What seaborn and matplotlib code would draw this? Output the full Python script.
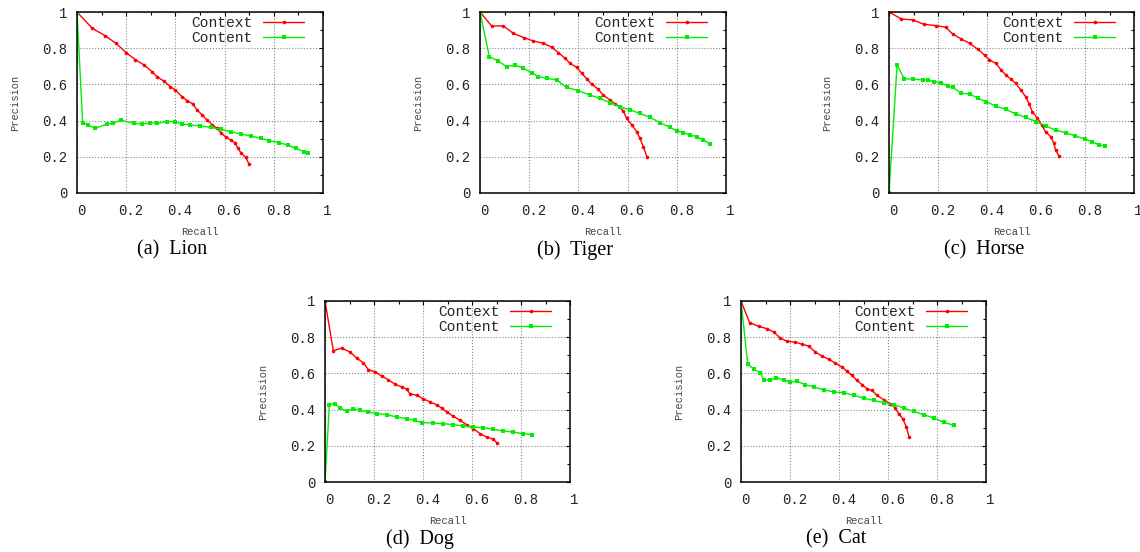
import matplotlib
matplotlib.use('Agg')
import matplotlib.pyplot as plt
import matplotlib.transforms as mtransforms
from matplotlib.ticker import MultipleLocator, FixedLocator, FixedFormatter
import seaborn as sns

# precision / recall pairs
lion_ctx_r = [0, 0.062, 0.114, 0.159, 0.2, 0.237, 0.273, 0.305, 0.325, 0.352, 0.38, 0.4, 0.427, 0.448,
              0.471, 0.488, 0.509, 0.529, 0.55, 0.57, 0.586, 0.604, 0.624, 0.642, 0.654, 0.668, 0.686, 0.699]
lion_ctx_p = [1.0, 0.91, 0.869, 0.827, 0.775, 0.737, 0.707, 0.67, 0.643, 0.619, 0.587, 0.569, 0.532, 0.51,
              0.492, 0.459, 0.431, 0.403, 0.376, 0.357, 0.33, 0.311, 0.293, 0.278, 0.247, 0.219, 0.197, 0.16]
lion_cnt_r = [0, 0.023, 0.046, 0.073, 0.121, 0.148, 0.178, 0.23, 0.264, 0.298, 0.325, 0.366, 0.4, 0.427,
              0.461, 0.502, 0.543, 0.584, 0.624, 0.665, 0.706, 0.747, 0.781, 0.822, 0.856, 0.89, 0.924, 0.937]
lion_cnt_p = [1.0, 0.389, 0.376, 0.357, 0.38, 0.385, 0.403, 0.385, 0.38, 0.389, 0.385, 0.394, 0.394, 0.381,
              0.376, 0.37, 0.363, 0.352, 0.339, 0.326, 0.315, 0.302, 0.289, 0.278, 0.265, 0.247, 0.228, 0.219]

tiger_ctx_r = [0, 0.047, 0.095, 0.136, 0.179, 0.217, 0.258, 0.292, 0.319, 0.346, 0.366, 0.393, 0.414, 0.434,
               0.454, 0.481, 0.501, 0.528, 0.549, 0.569, 0.583, 0.596, 0.617, 0.637, 0.65, 0.664, 0.678]
tiger_ctx_p = [1.0, 0.923, 0.923, 0.882, 0.858, 0.84, 0.827, 0.805, 0.775, 0.744, 0.716, 0.694, 0.661, 0.63,
               0.602, 0.573, 0.541, 0.514, 0.492, 0.473, 0.453, 0.413, 0.376, 0.339, 0.302, 0.256, 0.201]
tiger_cnt_r = [0, 0.038, 0.074, 0.108, 0.142, 0.176, 0.21, 0.237, 0.271, 0.312, 0.352, 0.4, 0.447, 0.488,
               0.528, 0.569, 0.61, 0.65, 0.691, 0.732, 0.772, 0.8, 0.827, 0.854, 0.881, 0.908, 0.935]
tiger_cnt_p = [1.0, 0.753, 0.729, 0.698, 0.707, 0.689, 0.665, 0.643, 0.634, 0.624, 0.584, 0.565, 0.541, 0.523,
               0.499, 0.477, 0.459, 0.44, 0.418, 0.389, 0.363, 0.344, 0.333, 0.32, 0.311, 0.293, 0.271]

horse_ctx_r = [0, 0.051, 0.099, 0.142, 0.191, 0.231, 0.261, 0.295, 0.329, 0.363, 0.39, 0.41, 0.437, 0.457,
               0.477, 0.498, 0.518, 0.538, 0.558, 0.572, 0.585, 0.606, 0.623, 0.639, 0.66, 0.673, 0.68, 0.694]
horse_ctx_p = [1.0, 0.961, 0.956, 0.932, 0.925, 0.916, 0.877, 0.851, 0.827, 0.794, 0.762, 0.735, 0.716, 0.68,
               0.652, 0.628, 0.606, 0.569, 0.532, 0.492, 0.449, 0.413, 0.376, 0.339, 0.311, 0.275, 0.238, 0.204]
horse_cnt_r = [0, 0.033, 0.063, 0.097, 0.138, 0.158, 0.185, 0.212, 0.239, 0.26, 0.295, 0.329, 0.363, 0.397,
               0.437, 0.477, 0.518, 0.558, 0.599, 0.639, 0.68, 0.721, 0.761, 0.802, 0.829, 0.856, 0.883]
horse_cnt_p = [0, 0.707, 0.63, 0.63, 0.624, 0.624, 0.615, 0.609, 0.591, 0.584, 0.551, 0.547, 0.523, 0.504,
               0.48, 0.462, 0.436, 0.418, 0.394, 0.37, 0.348, 0.333, 0.315, 0.297, 0.284, 0.265, 0.261]

dog_ctx_r = [0, 0.034, 0.068, 0.102, 0.129, 0.156, 0.177, 0.204, 0.231, 0.258, 0.286, 0.313, 0.333, 0.347,
             0.374, 0.401, 0.429, 0.456, 0.476, 0.497, 0.524, 0.551, 0.578, 0.605, 0.633, 0.66, 0.687, 0.703]
dog_ctx_p = [1.0, 0.725, 0.74, 0.718, 0.685, 0.659, 0.621, 0.608, 0.586, 0.565, 0.54, 0.525, 0.512, 0.488,
             0.479, 0.46, 0.442, 0.427, 0.409, 0.387, 0.363, 0.341, 0.317, 0.295, 0.267, 0.249, 0.236, 0.215]
dog_cnt_r = [0, 0.018, 0.041, 0.061, 0.089, 0.116, 0.143, 0.177, 0.211, 0.252, 0.293, 0.333, 0.367, 0.395,
             0.442, 0.483, 0.524, 0.565, 0.605, 0.646, 0.687, 0.728, 0.769, 0.809, 0.844]
dog_cnt_p = [0, 0.427, 0.433, 0.409, 0.39, 0.405, 0.396, 0.387, 0.378, 0.372, 0.359, 0.35, 0.341, 0.328,
             0.326, 0.322, 0.317, 0.309, 0.304, 0.3, 0.291, 0.282, 0.276, 0.267, 0.262]

cat_ctx_r = [0, 0.035, 0.072, 0.106, 0.133, 0.16, 0.188, 0.222, 0.249, 0.276, 0.303, 0.331, 0.358, 0.385,
             0.412, 0.433, 0.453, 0.473, 0.494, 0.514, 0.535, 0.555, 0.582, 0.609, 0.63, 0.643, 0.66, 0.675, 0.686]
cat_ctx_p = [1.0, 0.88, 0.86, 0.847, 0.829, 0.796, 0.777, 0.773, 0.761, 0.751, 0.718, 0.696, 0.678, 0.657,
             0.635, 0.611, 0.589, 0.562, 0.538, 0.516, 0.506, 0.479, 0.455, 0.433, 0.409, 0.378, 0.35, 0.304, 0.249]
cat_cnt_r = [0, 0.027, 0.052, 0.079, 0.092, 0.12, 0.144, 0.174, 0.201, 0.229, 0.262, 0.296, 0.337, 0.378,
             0.419, 0.46, 0.5, 0.541, 0.582, 0.623, 0.664, 0.705, 0.745, 0.786, 0.827, 0.868]
cat_cnt_p = [1.0, 0.654, 0.622, 0.604, 0.565, 0.562, 0.575, 0.565, 0.552, 0.556, 0.538, 0.525, 0.51, 0.497,
             0.494, 0.479, 0.464, 0.451, 0.438, 0.427, 0.409, 0.39, 0.372, 0.354, 0.331, 0.313]

captions = ['(a)  Lion', '(b)  Tiger', '(c)  Horse', '(d)  Dog', '(e)  Cat']
tick_vals = [0, 0.2, 0.4, 0.6, 0.8, 1]
tick_labels = ['0', '0.2', '0.4', '0.6', '0.8', '1']

series = [
    (lion_ctx_r, lion_ctx_p, lion_cnt_r, lion_cnt_p),
    (tiger_ctx_r, tiger_ctx_p, tiger_cnt_r, tiger_cnt_p),
    (horse_ctx_r, horse_ctx_p, horse_cnt_r, horse_cnt_p),
    (dog_ctx_r, dog_ctx_p, dog_cnt_r, dog_cnt_p),
    (cat_ctx_r, cat_ctx_p, cat_cnt_r, cat_cnt_p),
]

# axes boxes in pixels: left, top, width, height
W, H = 1140, 552
boxes = [(77, 12, 246, 181), (480, 12, 246, 181), (889, 12, 245, 181),
         (325, 301, 245, 181), (741, 301, 245, 181)]

sns.set_style('white')
plt.rcParams['font.family'] = ['Liberation Mono', 'DejaVu Sans Mono']

fig = plt.figure(figsize=(W / 100, H / 100), dpi=100)
shift = mtransforms.ScaledTranslation(4.5 / 100, 0, fig.dpi_scale_trans)

for k, (cr, cp, nr, np_) in enumerate(series):
    l, t, w, h = boxes[k]
    ax = fig.add_axes([l / W, (H - t - h) / H, w / W, h / H])
    sns.lineplot(x=cr, y=cp, ax=ax, sort=False, estimator=None, color='#ff0000', lw=1,
                 marker='o', markersize=2.6, mec='#ff0000', mew=0, label='Context')
    sns.lineplot(x=nr, y=np_, ax=ax, sort=False, estimator=None, color='#00ee00', lw=1,
                 marker='s', markersize=2.2, mec='#00ee00', mew=0, label='Content')
    ax.set_xlim(0, 1)
    ax.set_ylim(0, 1)
    ax.xaxis.set_major_locator(FixedLocator(tick_vals))
    ax.yaxis.set_major_locator(FixedLocator(tick_vals))
    ax.xaxis.set_major_formatter(FixedFormatter(tick_labels))
    ax.yaxis.set_major_formatter(FixedFormatter(tick_labels))
    ax.xaxis.set_minor_locator(MultipleLocator(0.1))
    ax.yaxis.set_minor_locator(MultipleLocator(0.1))
    ax.tick_params(which='both', direction='in', top=True, right=True, color='black', width=0.8)
    ax.tick_params(which='major', length=3)
    ax.tick_params(which='minor', length=2)
    ax.tick_params(axis='x', pad=8, labelsize=10, labelcolor='#222222')
    ax.tick_params(axis='y', pad=7, labelsize=10, labelcolor='#222222')
    for lab in ax.get_xticklabels():
        lab.set_transform(lab.get_transform() + shift)
    ax.grid(True, which='major', ls=':', color='#888888', lw=0.8)
    for sp in ax.spines.values():
        sp.set_color('black')
        sp.set_linewidth(1.1)
    ax.set_xlabel('')
    ax.set_ylabel('')
    ax.text(0.5, -39 / h, 'Recall', transform=ax.transAxes, ha='center', va='center',
            fontsize=7.5, color='#444444')
    ax.text(-62 / w, 0.5, 'Precision', transform=ax.transAxes, ha='center', va='center',
            rotation=90, fontsize=7.5, color='#444444')
    ax.legend(loc='upper right', bbox_to_anchor=(1 - 19 / w, 1 - 4 / h), frameon=False,
              markerfirst=False, fontsize=10.5, handlelength=2.8, handletextpad=0.75,
              labelspacing=0.1, borderaxespad=0, borderpad=0, numpoints=1)
    fig.text((l + 95) / W, 1 - (t + h + 57) / H, captions[k], ha='center', va='center',
             fontsize=14.5, family='Liberation Serif', color='black')

fig.savefig('out.png', dpi=100)
